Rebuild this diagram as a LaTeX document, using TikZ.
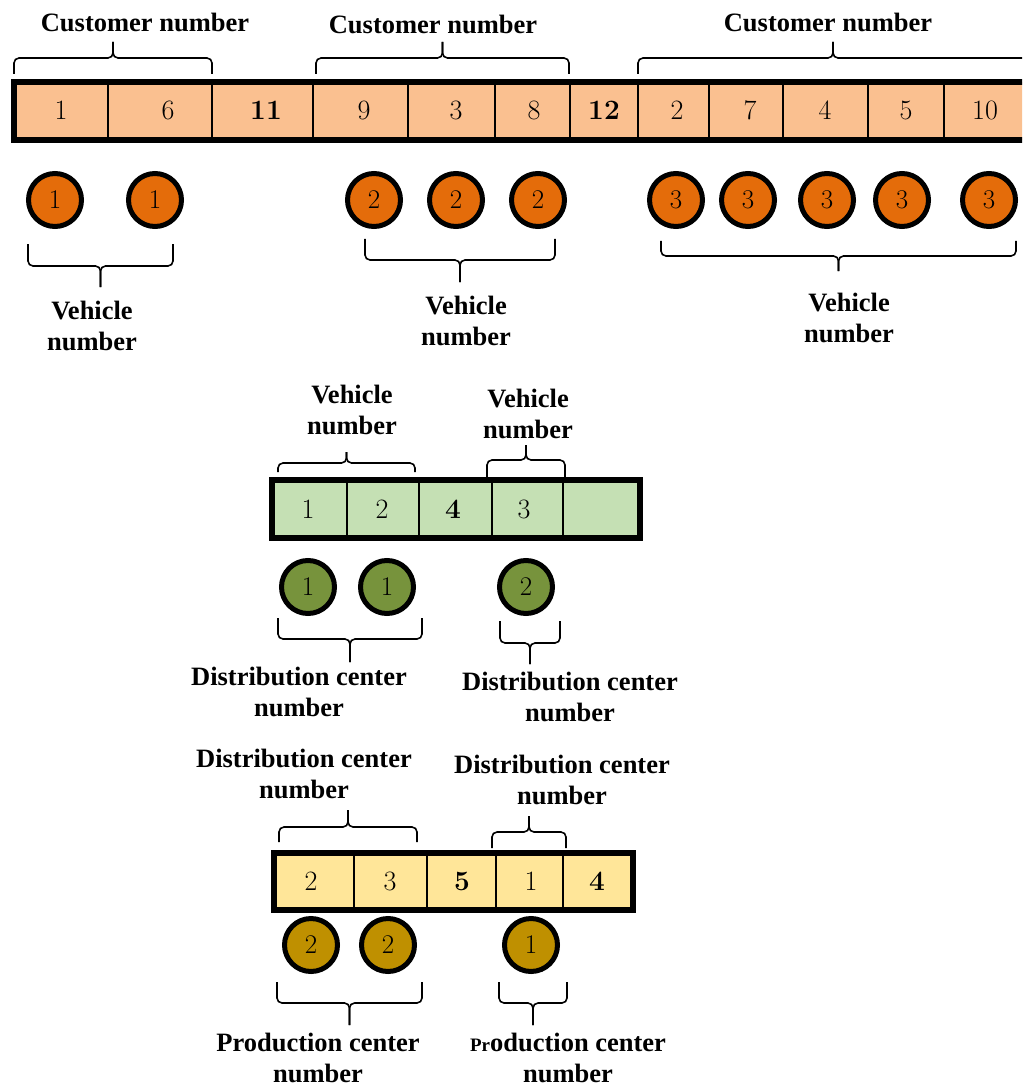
\documentclass[tikz,border=0pt]{standalone}
\usepackage{fontspec}
\newfontfamily\lblfont{Liberation Serif}
\usetikzlibrary{positioning}
\definecolor{custbar}{HTML}{FAC090}
\definecolor{custdot}{HTML}{E46C0A}
\definecolor{dcbar}{HTML}{C5E0B4}
\definecolor{dcdot}{HTML}{77933C}
\definecolor{pcbar}{HTML}{FFE699}
\definecolor{pcdot}{HTML}{BF9000}
\newcommand\hbrace[5]{%
  \draw[brace] (#1,#3) |- ({(#1+#2)/2},#4) -- ({(#1+#2)/2},#5);
  \draw[brace] (#2,#3) |- ({(#1+#2)/2},#4) -- ({(#1+#2)/2},#5);}
\tikzset{
  lbl/.style={font=\lblfont\bfseries\fontsize{26.5}{31}\selectfont,align=center,inner sep=0pt},
  num/.style={font=\fontsize{28}{30}\selectfont,inner sep=0pt},
  dot/.style={circle,draw,line width=5pt,minimum size=53pt,inner sep=0pt,font=\fontsize{27}{29}\selectfont},
  bar/.style={line width=6pt},
  cellline/.style={line width=1.5pt},
  brace/.style={line width=1.6pt,rounded corners=5pt}
}

\begin{document}
\begin{tikzpicture}[x=1pt,y=-1pt]
\useasboundingbox (0,0) rectangle (1022,1091);
\clip (0,0) rectangle (1022,1091);

\fill[custbar] (14,82) rectangle (1032,140);
\foreach \x in {108,212,313,408,495,570,638,709,783,868,944}
  \draw[cellline] (\x,82) -- (\x,140);
\draw[bar] (14,82) rectangle (1032,140);
\foreach \n/\x/\t in {c1/61/1,c2/168/6,c3/266/\textbf{11},c4/364/9,c5/456/3,c6/534/8,
  c7/604/\textbf{12},c8/677/2,c9/750/7,c10/825/4,c11/906/5,c12/985/10}
  \node[num] (\n) at (\x,110) {\t};
\foreach \n/\x/\t in {v1/55/1,v2/155/1,v3/374/2,v4/456/2,v5/538/2,
  v6/676/3,v7/748/3,v8/827/3,v9/902/3,v10/989/3}
  \node[dot,fill=custdot] (\n) at (\x,200) {\t};

\node[lbl] (cust1) at (145,22) {Customer number};
\node[lbl] (cust2) at (433,24) {Customer number};
\node[lbl] (cust3) at (828,22) {Customer number};
\hbrace{14}{212}{74}{58}{42}
\hbrace{316}{569}{74}{58}{42}
\hbrace{638}{1028}{74}{58}{42}
\hbrace{28}{173}{244}{266}{287}
\hbrace{365}{555}{239}{260}{282}
\hbrace{661}{1016}{241}{256}{271}
\node[lbl] (veh1) at (92,326) {Vehicle\\number};
\node[lbl] (veh2) at (466,321) {Vehicle\\number};
\node[lbl] (veh3) at (849,318) {Vehicle\\number};

\fill[dcbar] (272,480) rectangle (640,538);
\foreach \x in {347,419,492,563}
  \draw[cellline] (\x,480) -- (\x,540);
\draw[bar] (272,480) rectangle (640,538);
\foreach \n/\x/\t in {d1/308/1,d2/382/2,d3/453/\textbf{4},d4/524/3}
  \node[num] (\n) at (\x,509) {\t};
\foreach \n/\x/\t in {g1/308/1,g2/387/1,g3/526/2}
  \node[dot,fill=dcdot] (\n) at (\x,587) {\t};
\node[lbl] (gveh1) at (352,410) {Vehicle\\number};
\node[lbl] (gveh2) at (528,414) {Vehicle\\number};
\hbrace{278}{415}{472}{463}{452}
\hbrace{487}{565}{477}{460}{445}
\hbrace{278}{422}{618}{639}{662}
\hbrace{500}{560}{621}{643}{664}
\node[lbl] (dc1) at (299,692) {Distribution center\\number};
\node[lbl] (dc2) at (570,697) {Distribution center\\number};

\fill[pcbar] (274,853) rectangle (633,910);
\foreach \x in {354,427,496,563}
  \draw[cellline] (\x,853) -- (\x,910);
\draw[bar] (274,853) rectangle (633,910);
\foreach \n/\x/\t in {y1/311/2,y2/390/3,y3/462/\textbf{5},y4/531/1,y5/597/\textbf{4}}
  \node[num] (\n) at (\x,881) {\t};
\foreach \n/\x/\t in {p1/311/2,p2/388/2,p3/531/1}
  \node[dot,fill=pcdot] (\n) at (\x,945) {\t};
\node[lbl] (ydc1) at (304,774) {Distribution center\\number};
\node[lbl] (ydc2) at (562,780) {Distribution center\\number};
\hbrace{279}{417}{842}{827}{810}
\hbrace{492}{566}{848}{832}{816}
\hbrace{277}{422}{982}{1003}{1025}
\hbrace{499}{567}{982}{1003}{1025}
\node[lbl] (pc1) at (318,1058) {Production center\\number};
\node[lbl] (pc2) at (568,1058) {{\fontsize{19}{20}\selectfont Pr}oduction center\\number};
\end{tikzpicture}
\end{document}
